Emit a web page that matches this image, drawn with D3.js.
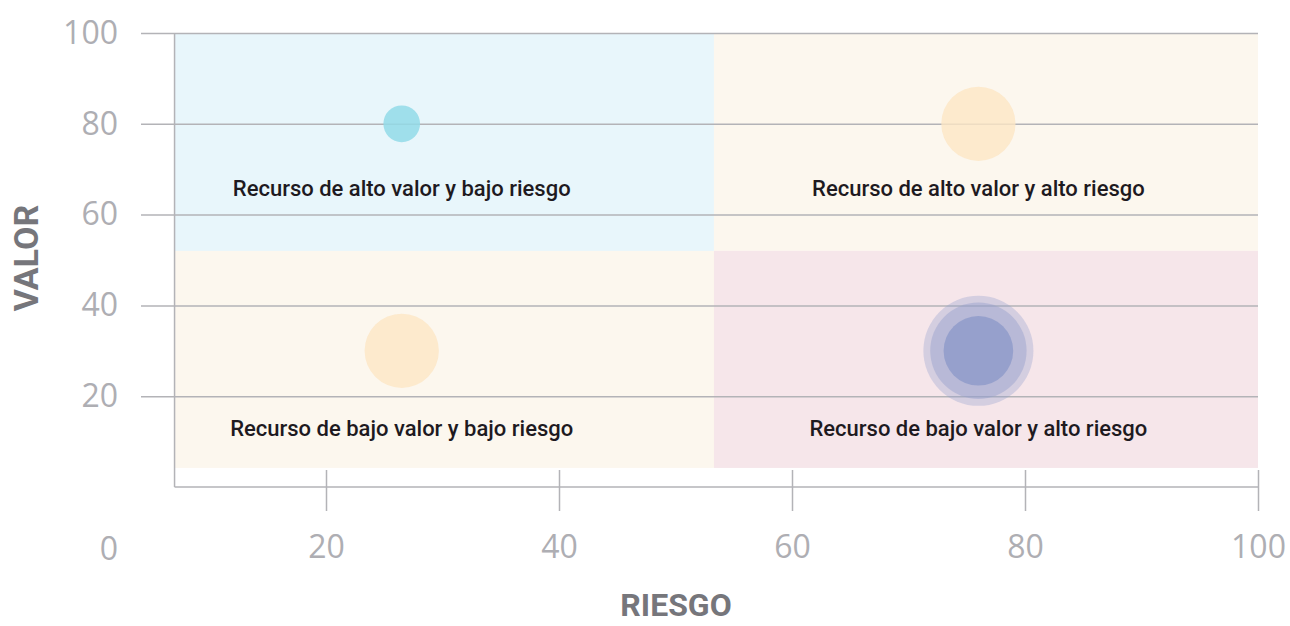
<!DOCTYPE html>
<html>
<head>
<meta charset="utf-8">
<script src="https://cdn.jsdelivr.net/npm/d3@7"></script>
<style>
  body{margin:0;background:#fff;}
  svg{display:block;}
</style>
</head>
<body>
<div id="grafico"></div>
<script>
//////////////////////datos//////////////////////
var riesgo=[26.5,76,26.5,76,76,76];//eje x
var valor=[80,80,30,30,30,30];//eje y
var tamano=[1.0,4.1,4.1,9.0,6.9,3.6];//tamaño de burbuja
var colorBurbuja=["rgba(146,218,232,0.85)","rgba(253,230,196,0.8)","rgba(253,230,196,0.8)","rgba(150,160,205,0.35)","rgba(150,160,205,0.45)","rgba(135,150,200,0.7)"];

var etiquetas=[
    "Recurso de alto valor y bajo riesgo",
    "Recurso de alto valor y alto riesgo",
    "Recurso de bajo valor y bajo riesgo",
    "Recurso de bajo valor y alto riesgo"
];
var etiquetaX=[26.5,76,26.5,76];
var etiquetaY=[65.3,65.3,12.6,12.6];

//cuadrantes: [x0,x1,y0,y1]
var cuadranteX0=[7,53.3,7,53.3];
var cuadranteX1=[53.3,100,53.3,100];
var cuadranteY0=[52,52,4.2,4.2];
var cuadranteY1=[100,100,52,52];
var cuadranteColor=["#e8f6fb","#fcf7ee","#fcf7ee","#f6e6ea"];

var ticksX=[20,40,60,80,100];
var ticksY=[20,40,60,80,100];

//////////////////////dibujo//////////////////////
var width=1290,height=626;
var svg=d3.select("#grafico").append("svg").attr("width",width).attr("height",height);

var xScale=d3.scaleLinear().domain([0,100]).range([93,1258]);
var yScale=d3.scaleLinear().domain([0,100]).range([487,33]);
var rScale=d3.scaleSqrt().domain([0,10]).range([0,58]);

var fuenteTick="'Open Sans',Roboto,sans-serif";

//fondo de cuadrantes
svg.append("g").selectAll("rect")
    .data(cuadranteColor)
    .enter()
    .append("rect")
    .attr("x",function(d,i){return xScale(cuadranteX0[i]);})
    .attr("y",function(d,i){return yScale(cuadranteY1[i]);})
    .attr("width",function(d,i){return xScale(cuadranteX1[i])-xScale(cuadranteX0[i]);})
    .attr("height",function(d,i){return yScale(cuadranteY0[i])-yScale(cuadranteY1[i]);})
    .attr("fill",function(d){return d;});

//eje y con lineas de grilla
var ejeY=svg.append("g")
    .attr("transform","translate(141,0)")
    .call(d3.axisLeft(yScale).tickValues(ticksY).tickSizeInner(-(1258-141)).tickSizeOuter(0).tickPadding(23));
ejeY.select(".domain").remove();
ejeY.selectAll("line").attr("stroke","#b3b3b7").attr("stroke-width",1.5);
ejeY.selectAll("text")
    .attr("fill","#aeaeb3")
    .style("font-family",fuenteTick)
    .style("font-weight","400")
    .style("font-size","32px");

//eje x
var ejeX=svg.append("g")
    .attr("transform","translate(0,487)")
    .call(d3.axisBottom(xScale).tickValues(ticksX).tickSizeInner(24).tickSizeOuter(0).tickPadding(24));
ejeX.select(".domain").remove();
ejeX.selectAll("line").attr("y1",-17).attr("stroke","#b3b3b7").attr("stroke-width",1.5);
ejeX.selectAll("text")
    .attr("fill","#aeaeb3")
    .style("font-family",fuenteTick)
    .style("font-weight","400")
    .style("font-size","32px");

//origen
svg.append("text")
    .attr("x",118).attr("y",560)
    .attr("text-anchor","end")
    .attr("fill","#aeaeb3")
    .style("font-family",fuenteTick)
    .style("font-weight","400")
    .style("font-size","32px")
    .text("0");

//lineas de ejes
svg.append("line")
    .attr("x1",xScale(7)).attr("x2",xScale(7))
    .attr("y1",yScale(100)).attr("y2",yScale(0))
    .attr("stroke","#b3b3b7").attr("stroke-width",1.5);
svg.append("line")
    .attr("x1",xScale(7)).attr("x2",xScale(100))
    .attr("y1",yScale(0)).attr("y2",yScale(0))
    .attr("stroke","#b3b3b7").attr("stroke-width",1.5);

//burbujas
svg.append("g").selectAll("circle")
    .data(tamano)
    .enter()
    .append("circle")
    .attr("cx",function(d,i){return xScale(riesgo[i]);})
    .attr("cy",function(d,i){return yScale(valor[i]);})
    .attr("r",function(d){return rScale(d);})
    .attr("fill",function(d,i){return colorBurbuja[i];});

//etiquetas de cuadrante
svg.append("g").selectAll("text")
    .data(etiquetas)
    .enter()
    .append("text")
    .attr("x",function(d,i){return xScale(etiquetaX[i]);})
    .attr("y",function(d,i){return yScale(etiquetaY[i]);})
    .attr("text-anchor","middle")
    .attr("dominant-baseline","middle")
    .attr("fill","#1e1a1f")
    .style("font-family","Roboto,sans-serif")
    .style("font-weight","500")
    .style("font-size","22px")
    .text(function(d){return d;});

//titulos de ejes
svg.append("text")
    .attr("x",676).attr("y",616)
    .attr("text-anchor","middle")
    .attr("fill","#76767b")
    .style("font-family","Roboto,sans-serif")
    .style("font-weight","700")
    .style("font-size","32px")
    .text("RIESGO");
svg.append("text")
    .attr("transform","translate(38,258) rotate(-90)")
    .attr("text-anchor","middle")
    .attr("fill","#76767b")
    .style("font-family","Roboto,sans-serif")
    .style("font-weight","700")
    .style("font-size","34px")
    .text("VALOR");
</script>
</body>
</html>
